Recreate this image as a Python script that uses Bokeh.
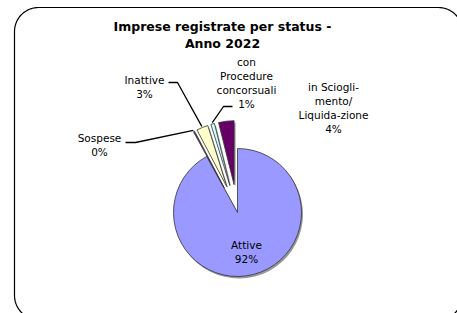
import numpy as np
from bokeh.plotting import figure
from bokeh.models import Range1d, ColumnDataSource
from bokeh.core.properties import value
from bokeh.transform import dodge
from bokeh.embed import file_html
from bokeh.resources import INLINE

# ---------------- data ----------------
title_lines = ["Imprese registrate per status -", "Anno 2022"]
categories = ["Attive", "Sospese", "Inattive",
              "con Procedure concorsuali", "in Scioglimento/Liquidazione"]
label_lines = [["Attive"], ["Sospese"], ["Inattive"],
               ["con", "Procedure", "concorsuali"],
               ["in Sciogli-", "mento/", "Liquida-zione"]]
shares = [92.0, 0.3, 2.9, 0.9, 3.9]
colors = ["#9999FF", "#993366", "#FFFFCC", "#CCFFFF", "#660066"]
exploded = [False, True, True, True, True]

# ---------------- layout (screen px) ----------------
W, H = 457, 313
X0, Y0 = 0, 0            # canvas origin in the picture
SCREEN_H = 313


def sy(y):               # screen y -> data y
    return SCREEN_H - y


CX, CY, R, EXPL = 237, 212, 64, 28
FONT = "DejaVu Sans"
LINE_STEP = 14.3
label_anchor = [(246, 244), (99, 137), (144, 79), (246, 61), (333, 86)]
leader_start = {1: [(125, 142), (135, 142)],
                2: [(168, 82), (177, 82)],
                3: [(232, 106), (223, 106)]}

p = figure(width=W, height=H, x_range=Range1d(X0, X0 + W),
           y_range=Range1d(SCREEN_H - Y0 - H, SCREEN_H - Y0),
           output_backend="svg", toolbar_location=None, min_border=0,
           x_axis_type=None, y_axis_type=None)
p.grid.visible = False
p.outline_line_color = None
p.background_fill_color = "white"
p.border_fill_color = "white"

# rounded frame
left, top, right, bottom, rr = 14, 7, 462, 319, 24
pts = []
for (cx, cy, a0, a1) in [(left + rr, top + rr, 180, 270),
                         (right - rr, top + rr, 270, 360),
                         (right - rr, bottom - rr, 0, 90),
                         (left + rr, bottom - rr, 90, 180)]:
    a = np.radians(np.linspace(a0, a1, 20))
    pts += [(cx + rr * np.cos(t), cy + rr * np.sin(t)) for t in a]
pts.append(pts[0])
p.line([q[0] for q in pts], [sy(q[1]) for q in pts], line_color="black",
       line_width=1.2)

# pie geometry: clockwise from 12 o'clock
fr = np.array(shares) / np.sum(shares) * 360.0
cum = np.concatenate([[0], np.cumsum(fr)])
theta1, theta2 = cum[:-1], cum[1:]
mid = (theta1 + theta2) / 2
phi = np.radians(90 - mid)
ox = np.where(exploded, EXPL * np.cos(phi), 0.0)
oy = np.where(exploded, EXPL * np.sin(phi), 0.0)
src = ColumnDataSource(dict(
    x=CX + ox, y=sy(CY) + oy,
    start=np.radians(90 - theta2), end=np.radians(90 - theta1),
    color=colors, cat=categories))

# shadow
p.wedge(x=dodge("x", 1.5), y=dodge("y", -2), radius=R,
        start_angle="start", end_angle="end",
        source=src, fill_color="#444444", fill_alpha=0.55, line_color=None)
p.wedge(x="x", y="y", radius=R, start_angle="start", end_angle="end",
        source=src, fill_color="color", line_color="#333333",
        line_width=0.8)

# leader lines
for i, seg in leader_start.items():
    ex = CX + ox[i] + R * 1.02 * np.cos(phi[i])
    ey = sy(CY) + oy[i] + R * 1.02 * np.sin(phi[i])
    xs = [seg[0][0], seg[1][0], ex]
    ys = [sy(seg[0][1]), sy(seg[1][1]), ey]
    p.line(xs, ys, line_color="black", line_width=1.3)

# labels
tx, ty, tt = [], [], []
for i, lines in enumerate(label_lines):
    ax, ay = label_anchor[i]
    all_lines = lines + [f"{round(shares[i])}%"]
    for k, s in enumerate(all_lines):
        tx.append(ax)
        ty.append(sy(ay + k * LINE_STEP))
        tt.append(s)
p.text(x=tx, y=ty, text=tt, text_align="center", text_baseline="middle",
       text_font=value(FONT), text_font_size="10.5px", text_color="black")

# title
p.text(x=[222, 222], y=[sy(26), sy(43)], text=title_lines,
       text_align="center", text_baseline="middle",
       text_font=value(FONT), text_font_size="12.5px",
       text_font_style="bold", text_color="black")

open("out.html", "w").write(file_html(p, INLINE))
